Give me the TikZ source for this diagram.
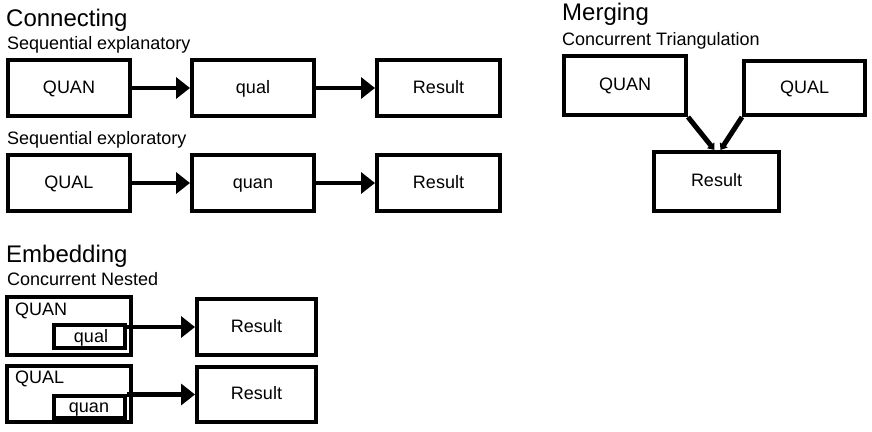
\documentclass[tikz,border=0pt]{standalone}
\usepackage{fontspec}
\setmainfont{Liberation Sans}
\usetikzlibrary{arrows.meta,calc}

\begin{document}
\begin{tikzpicture}[x=1pt,y=-1pt,
  box/.style={draw, line width=4pt, inner sep=0pt, text height=13pt, text depth=3pt,
    font=\fontsize{18}{20}\selectfont},
  inbox/.style={draw, line width=4pt, inner sep=0pt},
  heading/.style={anchor=base west, inner sep=0pt, font=\fontsize{24}{27}\selectfont},
  subheading/.style={anchor=base west, inner sep=0pt, font=\fontsize{18}{20}\selectfont},
  boxtext/.style={inner sep=0pt, font=\fontsize{18}{20}\selectfont},
  flow/.style={line width=4.5pt, -{Triangle[width=21pt,length=14pt]}},
  merge/.style={line width=5pt, -{Triangle[width=9pt,length=6pt]}}
]
\useasboundingbox[fill=white] (0,0) rectangle (872,431);

% ---------- Connecting ----------
\node[heading] (hcon) at (6,27) {Connecting};
\node[subheading] (hexpl) at (7,49) {Sequential explanatory};
\node[box, minimum width=122pt, minimum height=56pt] (a1) at (69,88) {QUAN};
\node[box, minimum width=122pt, minimum height=56pt] (a2) at (253,88) {qual};
\node[box, minimum width=123pt, minimum height=56pt] (a3) at (438.5,88) {Result};
\draw[flow] (a1) -- (a2);
\draw[flow] (a2) -- (a3);

\node[subheading] (hexpo) at (7,144) {Sequential exploratory};
\node[box, minimum width=122pt, minimum height=56pt] (b1) at (69,183) {QUAL};
\node[box, minimum width=122pt, minimum height=56pt] (b2) at (253,183) {quan};
\node[box, minimum width=123pt, minimum height=56pt] (b3) at (438.5,183) {Result};
\draw[flow] (b1) -- (b2);
\draw[flow] (b2) -- (b3);

% ---------- Merging ----------
\node[heading] (hmer) at (562,20) {Merging};
\node[subheading] (htri) at (562,45) {Concurrent Triangulation};
\node[box, minimum width=122pt, minimum height=59pt] (m1) at (625,85.5) {QUAN};
\node[box, minimum width=121pt, minimum height=54pt] (m2) at (804.5,88) {QUAL};
\node[box, minimum width=125pt, minimum height=59pt] (m3) at (716.5,181.5) {Result};
\coordinate (mL) at ($(m3.north)+(-2,0)$);
\coordinate (mR) at ($(m3.north)+(4,0)$);
\draw[merge] (m1.south east) -- (mL);
\draw[merge] (m2.south west) -- (mR);

% ---------- Embedding ----------
\node[heading] (hemb) at (6,262) {Embedding};
\node[subheading] (hnest) at (7,285) {Concurrent Nested};

\node[inbox, minimum width=124pt, minimum height=58pt] (e1) at (69,326) {};
\node[anchor=north west, boxtext] (e1t) at (15,303) {QUAN};
\node[inbox, minimum width=71pt, minimum height=23pt] (e1i) at (89.5,336.5) {};
\node[anchor=base, boxtext] (e1q) at (91,342.5) {qual};
\node[box, minimum width=119pt, minimum height=56pt] (r1) at (256.5,327) {Result};
\draw[flow] (e1i.east |- r1.west) -- (r1.west);

\node[inbox, minimum width=124pt, minimum height=56pt] (e2) at (69,394) {};
\node[anchor=north west, boxtext] (e2t) at (15,371) {QUAL};
\node[inbox, minimum width=71pt, minimum height=22pt] (e2i) at (89.5,407) {};
\node[anchor=base, boxtext] (e2q) at (89,412.5) {quan};
\node[box, minimum width=119pt, minimum height=55pt] (r2) at (256.5,394.5) {Result};
\draw[flow] (e2i.east |- r2.west) -- (r2.west);
\end{tikzpicture}
\end{document}
